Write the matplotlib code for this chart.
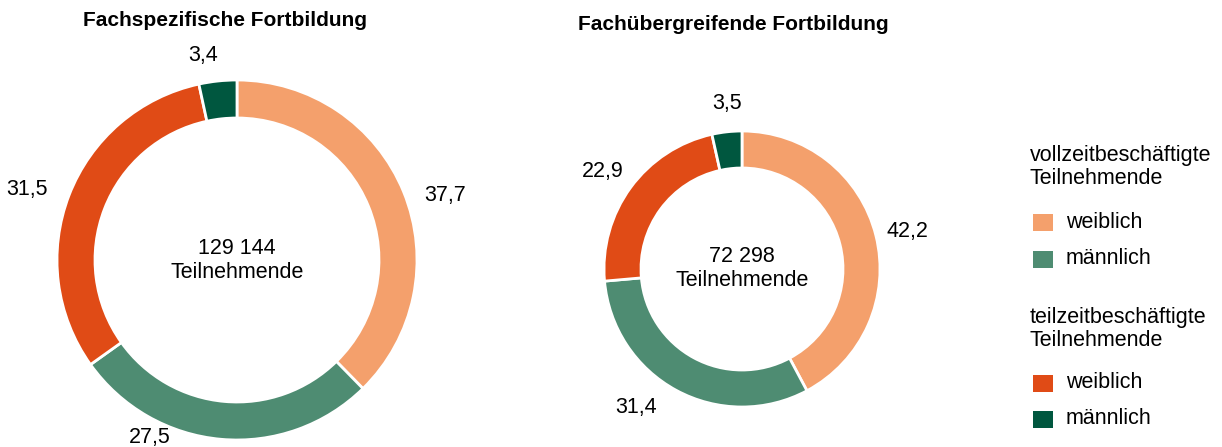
import matplotlib.pyplot as plt
from matplotlib.patches import Rectangle

plt.rcParams['font.family'] = ['Liberation Sans', 'DejaVu Sans']

# Anteile in %: vollzeit weiblich, vollzeit männlich, teilzeit weiblich, teilzeit männlich
titel = ["Fachspezifische Fortbildung", "Fachübergreifende Fortbildung"]
anteile_spez = [37.7, 27.5, 31.5, 3.4]
anteile_ueber = [42.2, 31.4, 22.9, 3.5]
teilnehmende = ["129 144", "72 298"]
farben = ["#F4A06C", "#4E8C72", "#E04B16", "#00573F"]
legende_gruppen = ["vollzeitbeschäftigte\nTeilnehmende", "teilzeitbeschäftigte\nTeilnehmende"]
legende_geschlecht = ["weiblich", "männlich"]

W, H = 1222, 447
FS = 15.5
fig = plt.figure(figsize=(W / 100, H / 100), dpi=100)
ax = fig.add_axes([0, 0, 1, 1])
ax.set_aspect('equal')
ax.axis('off')

def fmt(v):
    return f"{v:.1f}".replace(".", ",")

# Donut-Geometrie (Pixel): Mittelpunkt, Radius, Ringbreite, Titelposition, Labelpositionen
donuts = [
    dict(cx=237, cy=260, r=180, w=38, tx=225, ty=20, my=(249, 272),
         lab=[(445, 196), (150, 437), (27, 190), (203, 55)]),
    dict(cx=742, cy=269, r=138, w=37, tx=733, ty=24, my=(257, 281),
         lab=[(907, 232), (636, 408), (603, 171), (727, 104)]),
]

for d, werte, t, n in zip(donuts, [anteile_spez, anteile_ueber], titel, teilnehmende):
    ax.pie(werte, colors=farben, startangle=90, counterclock=False,
           center=(d['cx'], H - d['cy']), radius=d['r'],
           wedgeprops=dict(width=d['w'], edgecolor='white', linewidth=2))
    ax.text(d['tx'], H - d['ty'], t, ha='center', va='center',
            fontsize=15, fontweight='bold')
    ax.text(d['cx'], H - d['my'][0], n, ha='center', va='center', fontsize=FS)
    ax.text(d['cx'], H - d['my'][1], "Teilnehmende", ha='center', va='center', fontsize=FS)
    for (lx, ly), v in zip(d['lab'], werte):
        ax.text(lx, H - ly, fmt(v), ha='center', va='center', fontsize=FS)

ax.set_xlim(0, W)
ax.set_ylim(0, H)

# Legende
kopf_y = [(155, 179), (317, 340)]
box_y = [(222, 259), (383, 419)]
for g, gruppe in enumerate(legende_gruppen):
    for zeile, yy in zip(gruppe.split("\n"), kopf_y[g]):
        ax.text(1030, H - yy, zeile, ha='left', va='center', fontsize=FS)
    for k, label in enumerate(legende_geschlecht):
        yc = box_y[g][k]
        ax.add_patch(Rectangle((1033, H - yc - 8.5), 20, 17,
                               facecolor=farben[2 * g + k], edgecolor='none'))
        ax.text(1066, H - yc, label, ha='left', va='center', fontsize=FS)

fig.savefig("out.png", dpi=100)
